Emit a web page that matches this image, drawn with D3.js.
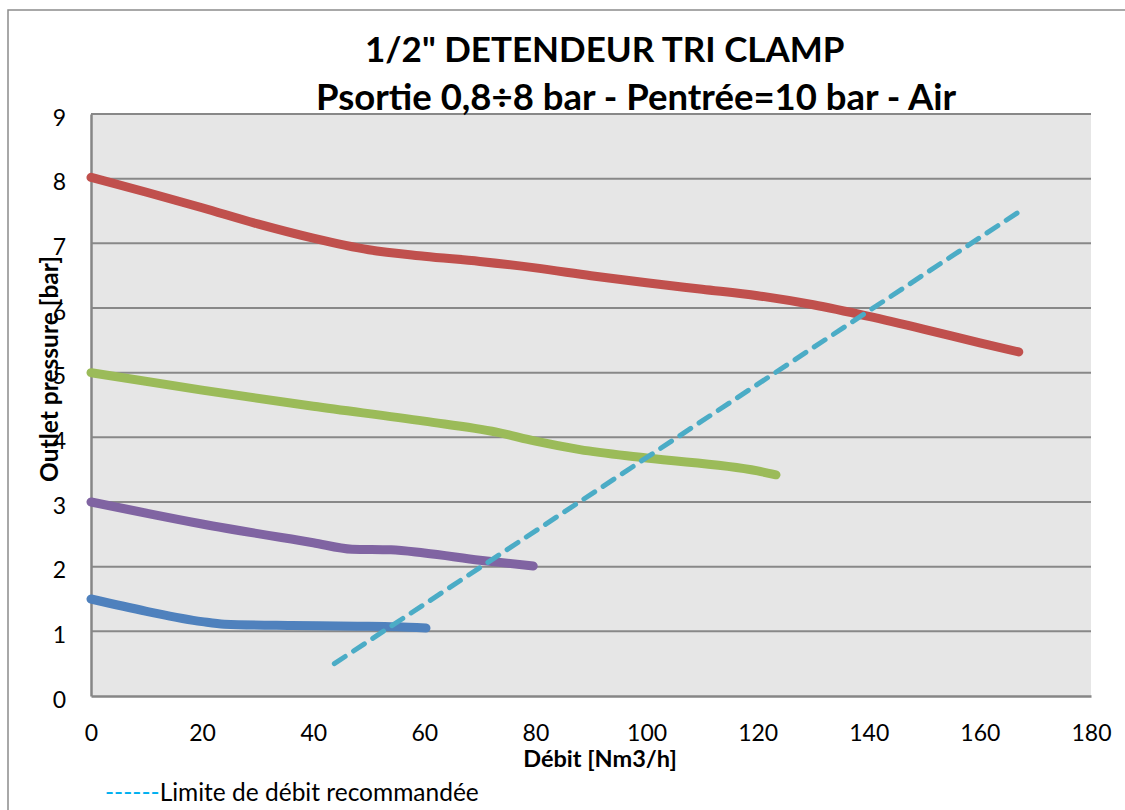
<!DOCTYPE html>
<html><head><meta charset="utf-8">
<script src="https://cdn.jsdelivr.net/npm/d3@7"></script>
<style>body{margin:0;background:#fff}svg{display:block}text{font-family:Lato,"Open Sans",sans-serif}</style>
</head><body><svg id="c" width="1125" height="810"></svg>
<script>
const titleLine1 = '1/2" DETENDEUR TRI CLAMP';
const titleLine2 = 'Psortie 0,8÷8 bar - Pentrée=10 bar - Air';
const xTitle = 'Débit [Nm3/h]';
const yTitle = 'Outlet pressure [bar]';
const legendLabel = 'Limite de débit recommandée';
const xTicks = [0,20,40,60,80,100,120,140,160,180];
const yTicks = [0,1,2,3,4,5,6,7,8,9];

const redX = [0,10,20,30,40,50,60,70,80,90,100,110,120,130,140,150,160,167];
const redY = [8.02,7.79,7.55,7.30,7.08,6.90,6.80,6.72,6.62,6.50,6.39,6.29,6.19,6.05,5.87,5.67,5.46,5.32];
const greenX = [0,20,40,60,73,80,88,100,120,123.3];
const greenY = [5.0,4.73,4.48,4.25,4.08,3.94,3.81,3.68,3.48,3.42];
const purpleX = [0,20,40,47,54,60,70,79.6];
const purpleY = [3.0,2.66,2.37,2.27,2.26,2.21,2.10,2.01];
const blueX = [0,10,20,24,36,48,55,60.3];
const blueY = [1.5,1.31,1.15,1.11,1.09,1.08,1.07,1.05];
const limitX = [43.8,166.9];
const limitY = [0.5,7.48];

const svg = d3.select('#c');
const L=91,R=1091,T=114,B=696;
const x = d3.scaleLinear().domain([0,180]).range([L,R]);
const y = d3.scaleLinear().domain([0,9]).range([B,T]);

// outer border
svg.append('rect').attr('x',8).attr('y',10).attr('width',1130).attr('height',820)
  .attr('fill','none').attr('stroke','#8c8c8c').attr('stroke-width',1.5);

svg.append('rect').attr('x',L).attr('y',T).attr('width',R-L).attr('height',B-T).attr('fill','#e6e6e6');

// gridlines
svg.append('g').selectAll('line').data(yTicks.filter(d=>d>0)).join('line')
  .attr('x1',L).attr('x2',R).attr('y1',d=>y(d)).attr('y2',d=>y(d))
  .attr('stroke','#888888').attr('stroke-width',2);

// axes
const yAxis = svg.append('g').attr('transform',`translate(${L},0)`)
  .call(d3.axisLeft(y).tickValues(yTicks).tickSize(0).tickPadding(25));
const xAxis = svg.append('g').attr('transform',`translate(0,${B})`)
  .call(d3.axisBottom(x).tickValues(xTicks).tickSize(0).tickPadding(29));
[yAxis,xAxis].forEach(a=>{
  a.select('.domain').attr('stroke','#868686').attr('stroke-width',2.5);
  a.selectAll('text').attr('font-size',23).attr('fill','#000').attr('font-family','Lato, sans-serif');
});
yAxis.selectAll('text').attr('dy','0.62em').attr('transform','translate(0,-3)');

const line = d3.line().x(d=>x(d[0])).y(d=>y(d[1])).curve(d3.curveMonotoneX);
const series = [
  {xs:redX, ys:redY, color:'#c0504d'},
  {xs:greenX, ys:greenY, color:'#9bbb59'},
  {xs:purpleX, ys:purpleY, color:'#8064a2'},
  {xs:blueX, ys:blueY, color:'#4f81bd'}
];
series.forEach(s=>{
  svg.append('path').datum(d3.zip(s.xs,s.ys)).attr('d',line)
    .attr('fill','none').attr('stroke',s.color).attr('stroke-width',9)
    .attr('stroke-linecap','round').attr('stroke-linejoin','round');
});
svg.append('path').datum(d3.zip(limitX,limitY)).attr('d',d3.line().x(d=>x(d[0])).y(d=>y(d[1])))
  .attr('fill','none').attr('stroke','#4bacc6').attr('stroke-width',5)
  .attr('stroke-dasharray','13,10').attr('stroke-linecap','round');

// titles
svg.append('text').attr('x',365).attr('y',62).attr('font-size',35).attr('font-weight','bold').text(titleLine1);
svg.append('text').attr('x',316).attr('y',110).attr('font-size',36.5).attr('font-weight','bold').text(titleLine2);
svg.append('text').attr('x',600).attr('y',767).attr('text-anchor','middle').attr('font-size',23.5).attr('font-weight','bold').text(xTitle);
svg.append('text').attr('transform','translate(58,369) rotate(-90)').attr('text-anchor','middle').attr('font-size',24.5).attr('font-weight','bold').text(yTitle);

const lg = svg.append('text').attr('x',105).attr('y',801).attr('font-size',24.5);
lg.append('tspan').attr('fill','#00b0f0').text('------');
lg.append('tspan').attr('fill','#000').text(legendLabel);
</script></body></html>
